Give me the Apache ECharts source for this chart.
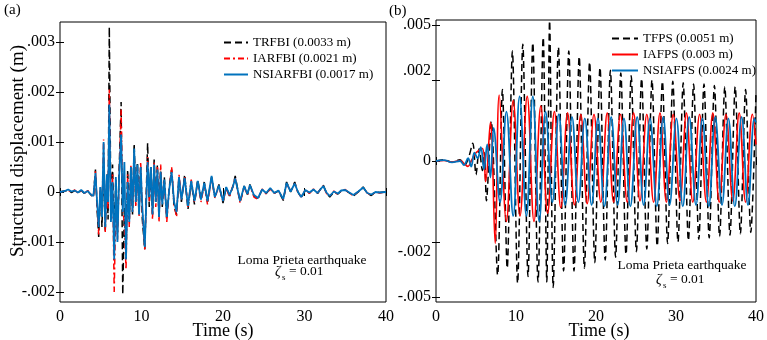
<!DOCTYPE html>
<html>
<head>
<meta charset="utf-8">
<script src="https://cdn.jsdelivr.net/npm/echarts@6/dist/echarts.min.js"></script>
<style>
  html, body { margin: 0; padding: 0; background: #fff; }
  #main { width: 767px; height: 340px; }
</style>
</head>
<body>
<div id="main"></div>
<script>
// values are in units of 0.001 m (the tick labels show metres)
var FONT = '"Liberation Serif", "Times New Roman", serif';

// ---- panel (a): fixed base vs isolated, time in s ----
var timeA = [
  0, 0.6, 1.0, 1.4, 1.8, 2.2, 2.6, 3.0, 3.4, 3.8, 4.1,
  4.35, 4.55, 4.75, 4.95, 5.15, 5.35, 5.55, 5.75, 5.9, 6.05,
  6.25, 6.45, 6.65, 6.85, 7.05, 7.25, 7.5, 7.7, 7.9, 8.1,
  8.3, 8.5, 8.7, 8.9, 9.1, 9.3, 9.5, 9.7, 9.9, 10.1,
  10.4, 10.75, 10.95, 11.15, 11.35, 11.55, 11.75, 11.95, 12.15, 12.35,
  12.55, 12.8, 13.1, 13.4, 13.7, 14.0, 14.3, 14.6, 14.9,
  15.3, 15.7, 16.1, 16.5, 16.9, 17.3, 17.7, 18.1, 18.6, 19.0,
  19.5, 20.0, 20.4, 20.8, 21.2, 21.5, 22.1, 22.6, 23.0, 23.3,
  23.8, 24.3, 24.8, 25.3, 25.8, 26.3, 26.8, 27.4, 27.8, 28.3,
  28.8, 29.2, 29.6, 30.1, 30.6, 31.1, 31.6, 32.3, 32.7, 33.1,
  33.6, 34.1, 34.5, 35.0, 35.5, 36.0, 36.6, 37.2, 37.7, 38.2,
  38.7, 39.2, 40.0
];
var trfbi = [
  0, 0.02, 0.04, -0.01, 0.03, -0.02, 0.03, -0.03, 0.02, -0.06, -0.1,
  0.45, -0.35, -0.9, 0.1, -0.7, 0.6, -0.8, 0.35, -0.55, 3.3,
  -0.45, 0.55, -0.85, 0.25, -0.8, 0.4, 1.8, -2.05, -0.3, -1.25,
  0.45, -0.55, 0.5, -0.45, 0.97, -0.2, 0.6, -0.4, 0.5, -0.55,
  -1.15, 0.98, -0.3, 0.5, -0.45, 0.65, -0.2, 0.55, -0.5, 0.45,
  -0.3, 0.3, -0.55, 0.1, 0.45, -0.3, -0.45, 0.3, -0.2,
  0.35, -0.35, 0.2, -0.25, 0.25, -0.15, 0.2, -0.2, 0.3, -0.1,
  0.15, -0.22, 0.1, -0.08, 0.1, 0.32, -0.2, 0.12, -0.05, 0.15,
  -0.08, -0.13, 0.05, -0.03, 0.07, -0.02, 0.02, -0.17, 0.2, 0.0,
  0.2, 0.0, -0.12, 0.03, -0.02, 0.05, -0.03, 0.14, -0.02, -0.1,
  0.0, -0.04, 0.02, 0.04, -0.02, -0.08, 0.0, 0.1, -0.03, -0.07,
  0.0, -0.01, 0.0
];
var iarfbi = [
  0, 0.02, 0.03, 0.0, 0.04, -0.02, 0.02, -0.03, 0.03, -0.05, -0.1,
  0.42, -0.25, -0.85, 0.05, -0.45, 1.05, -0.8, 0.3, -0.35, 2.05,
  -0.55, 0.35, -2.0, -0.2, -0.95, 0.25, 1.65, -0.35, -0.6, -1.55,
  0.35, -0.7, 0.55, -0.4, 0.8, -0.3, 0.5, -0.5, 0.6, -0.4,
  -1.15, 0.7, -0.2, 0.45, -0.55, 0.6, -0.3, 0.5, -0.6, 0.55,
  -0.2, 0.2, -0.6, 0.05, 0.5, -0.25, -0.5, 0.35, -0.15,
  0.3, -0.3, 0.25, -0.2, 0.2, -0.2, 0.15, -0.25, 0.28, -0.12,
  0.12, -0.2, 0.08, -0.1, 0.12, 0.28, -0.22, 0.1, -0.06, 0.13,
  -0.1, -0.15, 0.06, -0.04, 0.06, -0.03, 0.03, -0.15, 0.17, 0.02,
  0.17, -0.02, -0.1, 0.05, -0.03, 0.06, -0.02, 0.12, -0.03, -0.08,
  0.02, -0.05, 0.03, 0.05, -0.03, -0.07, 0.01, 0.08, -0.02, -0.06,
  0.0, -0.02, 0.0
];
var nsiarfbi = [
  0, 0.02, 0.05, 0.01, 0.03, -0.01, 0.04, -0.02, 0.02, -0.05, -0.08,
  0.38, -0.2, -0.7, 0.1, -0.5, 1.0, -0.7, 0.35, -0.2, 1.75,
  -0.6, 0.2, -1.35, 0.3, -1.0, 0.3, 1.15, -0.4, 0.6, -1.35,
  0.2, -0.6, 0.5, -0.4, 0.87, -0.2, 0.55, -0.45, 0.5, -0.3,
  -1.1, 0.6, -0.1, 0.5, -0.45, 0.55, -0.2, 0.45, -0.5, 0.4,
  -0.25, 0.25, -0.5, 0.05, 0.4, -0.2, -0.4, 0.3, -0.15,
  0.28, -0.28, 0.22, -0.18, 0.22, -0.15, 0.18, -0.18, 0.32, -0.1,
  0.13, -0.18, 0.1, -0.06, 0.1, 0.27, -0.18, 0.12, -0.04, 0.14,
  -0.06, -0.12, 0.05, -0.02, 0.08, -0.02, 0.03, -0.14, 0.18, 0.01,
  0.17, 0.0, -0.1, 0.04, -0.01, 0.05, -0.02, 0.12, -0.01, -0.08,
  0.01, -0.03, 0.03, 0.04, -0.01, -0.06, 0.01, 0.09, -0.02, -0.05,
  0.0, -0.01, 0.0
];

// ---- panel (b): friction pendulum systems ----
var tfpsT = [
  0, 1.0, 2.0, 3.0, 3.6, 4.1, 4.6, 5.0, 5.4, 5.8, 6.05, 6.3, 6.9,
  7.7, 8.3, 8.9, 9.55, 10.2, 10.85, 11.5, 12.1, 12.75, 13.4,
  13.85, 14.2, 14.65,
  15.3, 15.95, 16.6, 17.25, 17.9, 18.55, 19.2, 19.85, 20.5, 21.15,
  21.8, 22.45, 23.1, 23.75, 24.4, 25.05, 25.7, 26.35, 27.0, 27.65,
  28.3, 28.95, 29.6, 30.25, 30.9, 31.55, 32.2, 32.85, 33.5, 34.15,
  34.8, 35.45, 36.1, 36.75, 37.4, 38.05, 38.7, 39.35, 40.0
];
var tfpsV = [
  0, 0.05, -0.05, 0.05, -0.15, 0.15, 0.65, -0.5, 0.45, -0.35, 0.3, -1.45, 1.45,
  -4.15, 2.6, -3.9, 4.0, -4.45, 4.25, -4.2, 4.3, -4.4, 4.5,
  -4.4, 5.1, -4.6,
  4.15, -4.0, 4.0, -4.0, 3.8, -3.9, 3.6, -3.7, 3.4, -3.6,
  3.3, -3.5, 3.2, -3.4, 3.1, -3.3, 3.0, -3.2, 2.95, -3.1,
  2.9, -3.0, 2.9, -2.95, 2.85, -2.9, 2.8, -2.85, 2.8, -2.8,
  2.75, -2.75, 2.7, -2.7, 2.7, -2.65, 2.6, -2.6, 2.5
];
var iafpsT = [
  0, 1.0, 2.0, 3.0, 3.6, 4.0, 4.4, 5.0, 5.8, 6.2,
  6.8, 7.4, 7.9, 8.8, 9.65, 10.5, 11.4, 12.25, 13.1, 13.95,
  14.8, 15.6, 16.45, 17.3, 18.1, 18.9, 19.75, 20.6, 21.4, 22.2,
  23.05, 23.9, 24.7, 25.5, 26.35, 27.2, 28.0, 28.8, 29.65, 30.5,
  31.3, 32.1, 32.95, 33.8, 34.6, 35.4, 36.25, 37.1, 37.9, 38.7,
  39.55, 40.0
];
var iafpsV = [
  0, 0.02, -0.04, 0.02, -0.12, -0.2, 0.0, 0.3, 0.45, -0.75,
  1.4, -3.0, 2.4, -2.2, 2.2, -2.0, 2.35, -2.2, 2.0, -1.9,
  1.8, -1.7, 1.75, -1.6, 1.7, -1.55, 1.7, -1.5, 1.75, -1.5,
  1.7, -1.5, 1.75, -1.45, 1.7, -1.5, 1.75, -1.5, 1.7, -1.45,
  1.75, -1.5, 1.7, -1.5, 1.75, -1.5, 1.7, -1.45, 1.75, -1.5,
  1.7, 0.6
];
var nsiafpsT = [
  0, 1.0, 2.0, 3.0, 3.5, 4.0, 4.4, 4.8, 5.2, 5.6,
  6.0, 6.4, 6.8, 7.2, 8.0, 8.8, 9.65, 10.45, 11.3, 12.1,
  12.9, 13.7, 14.55, 15.35, 16.15, 17.0, 17.8, 18.6, 19.45, 20.25,
  21.05, 21.9, 22.7, 23.5, 24.3, 25.15, 25.95, 26.75, 27.6, 28.4,
  29.2, 30.05, 30.85, 31.65, 32.5, 33.3, 34.1, 34.9, 35.75, 36.55,
  37.35, 38.2, 39.0, 39.8, 40.0
];
var nsiafpsV = [
  0, 0.03, -0.05, 0.0, -0.15, 0.1, -0.2, 0.3, 0.1, 0.5,
  -0.3, 0.6, -0.6, 1.2, -1.5, 1.8, -2.0, 2.35, -2.0, 2.35,
  -2.2, 1.8, -1.5, 1.7, -1.6, 1.6, -1.5, 1.55, -1.6, 1.55,
  -1.65, 1.6, -1.6, 1.55, -1.65, 1.6, -1.6, 1.55, -1.65, 1.6,
  -1.6, 1.55, -1.65, 1.6, -1.6, 1.55, -1.65, 1.6, -1.6, 1.55,
  -1.65, 1.6, -1.6, 1.55, 1.4
];

// ticks
var leftTickValues = [-2, -1, 0, 1, 2, 3];
var leftTickLabels = ['-.002', '-.001', '0', '.001', '.002', '.003'];
var rightTickValues = [-4.95, -2.97, 0, 2.95, 4.95];
var rightLabelValues = [-4.95, -3.31, 0, 3.27, 4.95];
var rightTickLabels = ['-.005', '-.002', '0', '.002', '.005'];

function pairs(ts, vs) {
  return ts.map(function (t, i) { return [t, vs[i]]; });
}

var myChart = echarts.init(document.getElementById('main'));

function xAx(grid, top) {
  return {
    type: 'value', gridIndex: grid, position: top ? 'top' : 'bottom',
    min: 0, max: 40, interval: 10,
    axisLine: { show: false },
    axisTick: { inside: true, length: 4, lineStyle: { color: '#000' } },
    splitLine: { show: false },
    axisLabel: {
      show: !top, color: '#000', fontFamily: FONT, fontSize: 16, margin: 7
    }
  };
}
function yAx(grid, right, min, max, ticks, labelVals, labels) {
  return {
    type: 'value', gridIndex: grid, position: right ? 'right' : 'left',
    min: min, max: max,
    axisLine: { show: false },
    axisTick: { inside: true, length: 4, customValues: ticks, lineStyle: { color: '#000' } },
    splitLine: { show: false },
    axisLabel: {
      show: !right, customValues: labelVals,
      color: '#000', fontFamily: FONT, fontSize: 16, margin: 5,
      formatter: function (v) {
        var i = labelVals.indexOf(v);
        return i >= 0 ? labels[i] : '';
      }
    }
  };
}

var lineBase = { type: 'line', symbol: 'none', showSymbol: false, animation: false };

var legendText = { fontFamily: FONT, fontSize: 13, color: '#000' };

myChart.setOption({
  backgroundColor: '#fff',
  animation: false,
  grid: [
    { left: 60, top: 22, width: 326, height: 280, show: true, borderColor: '#000', borderWidth: 1 },
    { left: 436, top: 20, width: 327, height: 282, show: true, borderColor: '#000', borderWidth: 1 }
  ],
  xAxis: [xAx(0, false), xAx(0, true), xAx(1, false), xAx(1, true)],
  yAxis: [
    yAx(0, false, -2.2, 3.4, leftTickValues, leftTickValues, leftTickLabels),
    yAx(0, true, -2.2, 3.4, leftTickValues, leftTickValues, leftTickLabels),
    yAx(1, false, -5.13, 5.13, rightTickValues, rightLabelValues, rightTickLabels),
    yAx(1, true, -5.13, 5.13, rightTickValues, rightLabelValues, rightTickLabels)
  ],
  legend: [{
    data: ['TRFBI (0.0033 m)', 'IARFBI (0.0021 m)', 'NSIARFBI (0.0017 m)'],
    orient: 'vertical', left: 218, top: 31,
    itemWidth: 24, itemHeight: 12, itemGap: 3,
    itemStyle: { opacity: 0 },
    selectedMode: false, textStyle: legendText
  }, {
    data: ['TFPS (0.0051 m)', 'IAFPS (0.003 m)', 'NSIAFPS (0.0024 m)'],
    orient: 'vertical', left: 606, top: 27,
    itemWidth: 26, itemHeight: 12, itemGap: 3,
    itemStyle: { opacity: 0 },
    selectedMode: false, textStyle: legendText
  }],
  series: [
    Object.assign({}, lineBase, {
      name: 'TRFBI (0.0033 m)', xAxisIndex: 0, yAxisIndex: 0,
      data: pairs(timeA, trfbi),
      lineStyle: { color: '#000', width: 1.5, type: [7, 4] }, itemStyle: { color: '#000' }
    }),
    Object.assign({}, lineBase, {
      name: 'IARFBI (0.0021 m)', xAxisIndex: 0, yAxisIndex: 0,
      data: pairs(timeA, iarfbi),
      lineStyle: { color: '#ff0000', width: 1.5, type: [6, 3, 2, 3] }, itemStyle: { color: '#ff0000' }
    }),
    Object.assign({}, lineBase, {
      name: 'NSIARFBI (0.0017 m)', xAxisIndex: 0, yAxisIndex: 0,
      data: pairs(timeA, nsiarfbi),
      lineStyle: { color: '#0072BD', width: 1.8 }, itemStyle: { color: '#0072BD' }
    }),
    Object.assign({}, lineBase, {
      name: 'TFPS (0.0051 m)', xAxisIndex: 2, yAxisIndex: 2,
      data: pairs(tfpsT, tfpsV), smooth: 0.3,
      lineStyle: { color: '#000', width: 1.5, type: [7, 4] }, itemStyle: { color: '#000' }
    }),
    Object.assign({}, lineBase, {
      name: 'IAFPS (0.003 m)', xAxisIndex: 2, yAxisIndex: 2,
      data: pairs(iafpsT, iafpsV), smooth: 0.4,
      lineStyle: { color: '#ff0000', width: 1.6 }, itemStyle: { color: '#ff0000' }
    }),
    Object.assign({}, lineBase, {
      name: 'NSIAFPS (0.0024 m)', xAxisIndex: 2, yAxisIndex: 2,
      data: pairs(nsiafpsT, nsiafpsV), smooth: 0.4,
      lineStyle: { color: '#0072BD', width: 1.8 }, itemStyle: { color: '#0072BD' }
    })
  ],
  graphic: [
    { type: 'text', left: 4, top: 3, style: { text: '(a)', font: '15px ' + FONT, fill: '#000' } },
    { type: 'text', left: 389, top: 4, style: { text: '(b)', font: '15px ' + FONT, fill: '#000' } },
    { type: 'text', x: 18, y: 151, rotation: Math.PI / 2,
      style: { text: 'Structural displacement (m)', font: '19px ' + FONT, fill: '#000', align: 'center', verticalAlign: 'middle' } },
    { type: 'text', x: 223, y: 331, style: { text: 'Time (s)', font: '18px ' + FONT, fill: '#000', align: 'center', verticalAlign: 'middle' } },
    { type: 'text', x: 599, y: 331, style: { text: 'Time (s)', font: '18px ' + FONT, fill: '#000', align: 'center', verticalAlign: 'middle' } },
    // annotations panel (a)
    { type: 'text', x: 302, y: 260, style: { text: 'Loma Prieta earthquake', font: '13.5px ' + FONT, fill: '#000', align: 'center', verticalAlign: 'middle' } },
    { type: 'text', x: 275, y: 272, style: { text: 'ζ', font: 'italic 14px ' + FONT, fill: '#000', verticalAlign: 'middle' } },
    { type: 'text', x: 282, y: 278, style: { text: 's', font: '9px ' + FONT, fill: '#000', verticalAlign: 'middle' } },
    { type: 'text', x: 289, y: 271, style: { text: '= 0.01', font: '13.5px ' + FONT, fill: '#000', verticalAlign: 'middle' } },
    // annotations panel (b)
    { type: 'text', x: 682, y: 265, style: { text: 'Loma Prieta earthquake', font: '13.5px ' + FONT, fill: '#000', align: 'center', verticalAlign: 'middle' } },
    { type: 'text', x: 656, y: 280, style: { text: 'ζ', font: 'italic 14px ' + FONT, fill: '#000', verticalAlign: 'middle' } },
    { type: 'text', x: 663, y: 286, style: { text: 's', font: '9px ' + FONT, fill: '#000', verticalAlign: 'middle' } },
    { type: 'text', x: 670, y: 279, style: { text: '= 0.01', font: '13.5px ' + FONT, fill: '#000', verticalAlign: 'middle' } }
  ]
});
</script>
</body>
</html>
